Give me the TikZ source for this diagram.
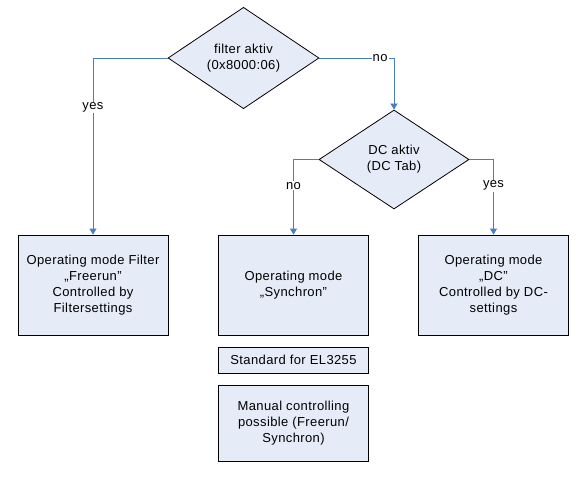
\documentclass[tikz,border=0pt]{standalone}
\usepackage{fontspec}
\setmainfont{Liberation Sans}[LetterSpace=3]
\usetikzlibrary{shapes.geometric,arrows.meta}
\definecolor{boxfill}{HTML}{E6ECF7}
\definecolor{linkblue}{HTML}{4A7EC4}
\begin{document}
\begin{tikzpicture}[x=1pt,y=-1pt,
  every node/.style={font=\fontsize{13}{16}\selectfont},
  decision/.style={diamond,draw=black,line width=0.8pt,fill=boxfill,inner sep=0pt,
    minimum width=151pt,minimum height=100pt,align=center},
  modebox/.style={rectangle,draw=black,line width=0.8pt,fill=boxfill,inner sep=0pt,
    minimum width=150pt,align=center},
  link/.style={draw=linkblue,line width=0.8pt,-{Triangle[width=7pt,length=6pt]}},
  lbl/.style={fill=white,inner sep=1pt}]
\useasboundingbox (0,0) rectangle (588,476);
\node[decision] (d1) at (243.5,58) {filter aktiv\\(0x8000:06)};
\node[decision,minimum width=150pt,minimum height=99pt] (d2) at (394,159.5) {DC aktiv\\(DC Tab)};
\node[modebox,minimum height=100pt] (b1) at (93,285) {Operating mode Filter\\„Freerun"\\Controlled by\\Filtersettings};
\node[modebox,minimum height=100pt] (b2) at (293.5,285) {Operating mode\\„Synchron"};
\node[modebox,minimum height=100pt] (b3) at (493.5,285) {Operating mode\\„DC"\\Controlled by DC-\\settings};
\node[modebox,minimum height=26pt] (s1) at (293.5,360) {Standard for EL3255};
\node[modebox,minimum height=76pt] (s2) at (293.5,423) {Manual controlling\\possible (Freerun/\\Synchron)};
\draw[link] (d1.west) -| node[lbl,pos=0.64] {yes} (b1.north);
\draw[link] (d1.east) -| node[lbl,pos=0.407] {no} (d2.north);
\draw[link] (d2.west) -| node[lbl,pos=0.675] {no} (b2.north);
\draw[link] (d2.east) -| node[lbl,pos=0.675] {yes} (b3.north);
\end{tikzpicture}
\end{document}
